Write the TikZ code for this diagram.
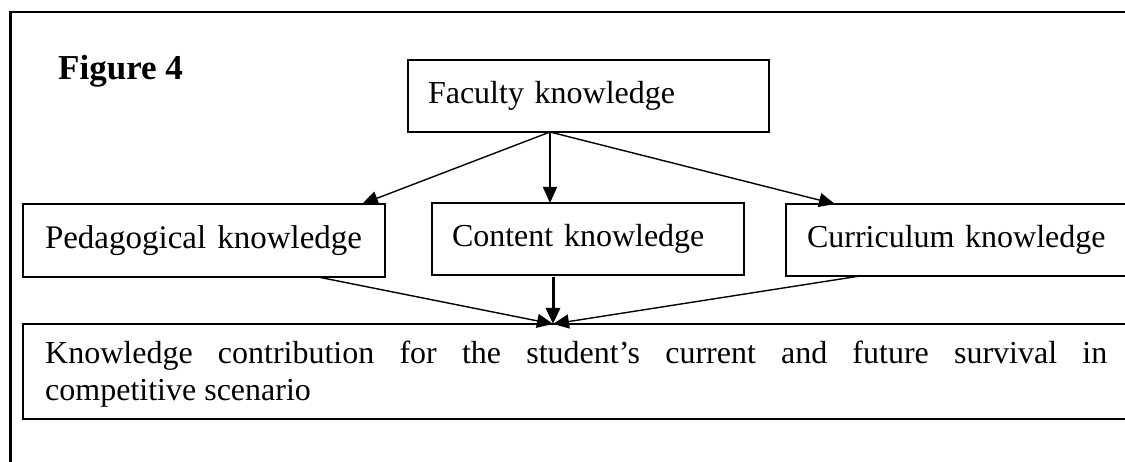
\documentclass[tikz,border=0pt]{standalone}
\usepackage{fontspec}
\setmainfont{Liberation Serif}
\usetikzlibrary{arrows.meta,calc}
\begin{document}
\begin{tikzpicture}[x=1pt,y=-1pt,
  box/.style={draw,line width=1.6pt,anchor=north west,outer sep=0pt,inner ysep=0pt,align=left,font=\fontsize{32}{37}\selectfont},
  arr/.style={line width=1.4pt,-{Triangle[length=16pt,width=14pt]}},
  arrthick/.style={line width=3pt,-{Triangle[length=16pt,width=14pt]}},
  frame/.style={line width=2.5pt}]
\useasboundingbox (0,0) rectangle (1125,462);
\clip (0,0) rectangle (1125,462);
% outer frame (cropped on right and bottom)
\draw[frame] (10.5,475) -- (10.5,12) -- (1140,12);
% title
\node[anchor=base west,inner sep=0pt,font=\bfseries\fontsize{35}{40}\selectfont] (title) at (58,80) {Figure 4};
% boxes
\node[box,inner xsep=20pt,text width=321pt,minimum height=72pt] (fac) at (408,60) {Faculty knowledge};
\node[box,inner xsep=22pt,text width=318pt,minimum height=73pt,font=\fontsize{33}{38}\selectfont] (ped) at (23,204) {Pedagogical knowledge};
\node[box,inner xsep=20pt,text width=272pt,minimum height=72pt] (con) at (432,203) {Content knowledge};
\node[box,inner xsep=21pt,text width=320pt,minimum height=72pt] (cur) at (786,204) {Curriculum knowledge};
\node[box,minimum width=1140pt,minimum height=95pt] (know) at (23,324) {};
\node[anchor=north west,inner sep=0pt,text width=1062pt,align=justify,font=\fontsize{32}{37}\selectfont] (knowtext) at (45,341) {Knowledge contribution for the student’s current and future survival in\linebreak competitive scenario};
% connectors
\coordinate (facout) at ($(fac.south west)+(142,0)$);
\draw[arr] (facout) -- ($(ped.north west)+(339,0)$);
\draw[arr] (facout) -- (facout |- con.north);
\draw[arr] (facout) -- ($(cur.north west)+(49,0)$);
\coordinate (meet) at ($(know.north west)+(530,0)$);
\draw[arr] ($(ped.south west)+(295,0)$) -- (meet);
\draw[arrthick] ($(con.south west)+(121,2)$) -- (meet);
\draw[arr] ($(cur.south west)+(74,0)$) -- (meet);
\end{tikzpicture}
\end{document}
